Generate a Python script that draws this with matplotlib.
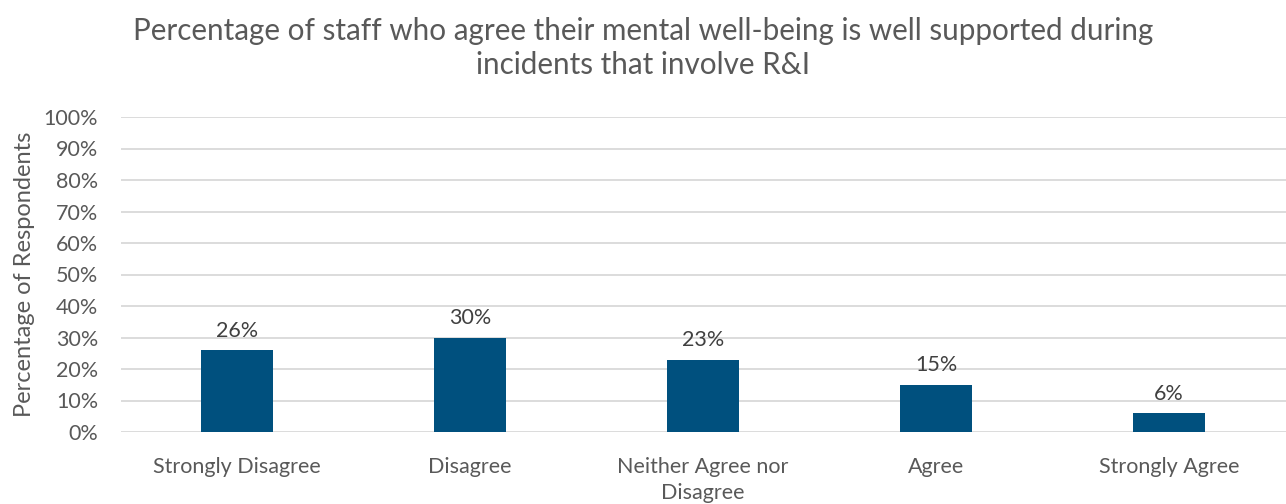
import matplotlib.pyplot as plt
import numpy as np

categories = ["Strongly Disagree", "Disagree", "Neither Agree nor\nDisagree", "Agree", "Strongly Agree"]
values = [26, 30, 23, 15, 6]
yticks = [0, 10, 20, 30, 40, 50, 60, 70, 80, 90, 100]

plt.rcParams['font.family'] = ['Lato', 'DejaVu Sans']
grey = '#595959'
bar_color = '#00507e'

W, H = 1286, 504
fig = plt.figure(figsize=(W / 100, H / 100), dpi=100)
ax = fig.add_axes([120.5 / W, 1 - 432 / H, (1285.5 - 120.5) / W, (432 - 117) / H])

x = np.arange(len(categories))
bars = ax.bar(x, values, width=0.31, color=bar_color, zorder=3)
for xi, v in zip(x, values):
    ax.text(xi, v + 3.0, f"{v}%", ha='center', va='bottom', fontsize=15.5, color='#404040')

ax.set_xlim(-0.5, len(categories) - 0.5)
ax.set_ylim(0, 100)
ax.set_yticks(yticks)
ax.set_yticklabels([f"{t}%" for t in yticks], fontsize=15.5, color=grey)
ax.set_xticks(x)
ax.set_xticklabels(categories, fontsize=15.5, color=grey, linespacing=1.4)
ax.tick_params(axis='both', length=0)
ax.tick_params(axis='x', pad=18)
ax.tick_params(axis='y', pad=16)
ax.grid(axis='y', color='#d9d9d9', linewidth=1.3, zorder=0)
for s in ax.spines.values():
    s.set_visible(False)

ax.set_ylabel("Percentage of Respondents", fontsize=17, color=grey, labelpad=6)

fig.text(0.5, 1 - 48 / H, "Percentage of staff who agree their mental well-being is well supported during\nincidents that involve R&I",
         ha='center', va='center', fontsize=21.3, color=grey, linespacing=1.3)

fig.savefig('out.png', dpi=100)
